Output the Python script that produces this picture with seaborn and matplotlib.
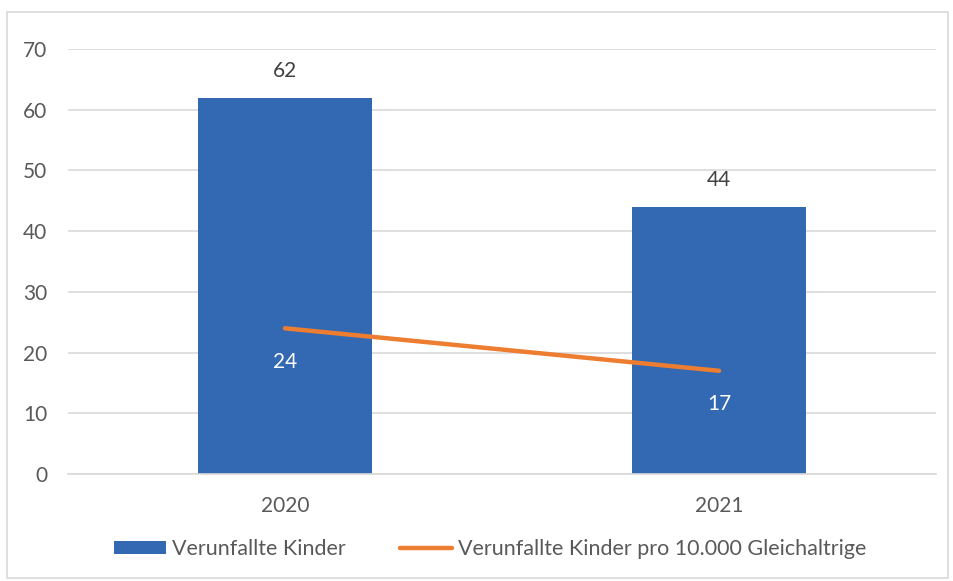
import matplotlib
matplotlib.use("Agg")
import matplotlib.pyplot as plt
import seaborn as sns
import pandas as pd
from matplotlib.patches import Patch, Rectangle
from matplotlib.lines import Line2D

years = ["2020", "2021"]
kinder = [62, 44]
pro_10000 = [24, 17]
y_ticks = [0, 10, 20, 30, 40, 50, 60, 70]
label_bar = "Verunfallte Kinder"
label_line = "Verunfallte Kinder pro 10.000 Gleichaltrige"

BLUE = "#3368B3"
ORANGE = "#ED7D31"
GRID = "#D9D9D9"
TEXT = "#595959"

sns.set_theme(style="white")
plt.rcParams["font.family"] = ["Lato", "DejaVu Sans"]

df = pd.DataFrame({"Jahr": years, "Kinder": kinder, "Rate": pro_10000})

fig = plt.figure(figsize=(9.54, 5.81), dpi=100)
ax = fig.add_axes([68 / 954, 1 - 474 / 581, 868 / 954, 425 / 581])

sns.barplot(data=df, x="Jahr", y="Kinder", color=BLUE, width=0.4,
            saturation=1, ax=ax, zorder=2, linewidth=0)
sns.pointplot(data=df, x="Jahr", y="Rate", color=ORANGE, markers="",
              linestyles="-", linewidth=3.2, ax=ax, zorder=3)

ax.set_xlim(-0.5, 1.5)
ax.set_ylim(0, 70)
ax.set_yticks(y_ticks)
ax.yaxis.grid(True, color=GRID, linewidth=1.2, zorder=0)
ax.set_axisbelow(True)
for s in ["top", "right", "left"]:
    ax.spines[s].set_visible(False)
ax.spines["bottom"].set_color(GRID)
ax.spines["bottom"].set_linewidth(1.2)
ax.set_xlabel("")
ax.set_ylabel("")
ax.tick_params(axis="both", length=0, labelsize=15, colors=TEXT)
ax.tick_params(axis="y", pad=15)
ax.tick_params(axis="x", pad=16)

for i, v in enumerate(kinder):
    ax.annotate(str(v), (i, v), xytext=(0, 12), textcoords="offset points",
                ha="center", va="bottom", fontsize=15, color="#404040")
for i, v in enumerate(pro_10000):
    ax.annotate(str(v), (i, v), xytext=(0, -17), textcoords="offset points",
                ha="center", va="top", fontsize=15, color="white")

handles = [Patch(facecolor=BLUE, edgecolor="none"),
           Line2D([0], [0], color=ORANGE, linewidth=3.2, solid_capstyle="round")]
fig.legend(handles, [label_bar, label_line], loc="center",
           bbox_to_anchor=(0.514, 1 - 549 / 581), ncol=2, frameon=False,
           fontsize=15.5, labelcolor=TEXT, handlelength=2.4, handleheight=0.6,
           handletextpad=0.3, columnspacing=2.5)

fig.patches.append(Rectangle((7 / 954, 3 / 581), 941 / 954, 566 / 581,
                             transform=fig.transFigure, fill=False,
                             edgecolor=GRID, linewidth=1.2))

fig.savefig("out.png", dpi=100)
